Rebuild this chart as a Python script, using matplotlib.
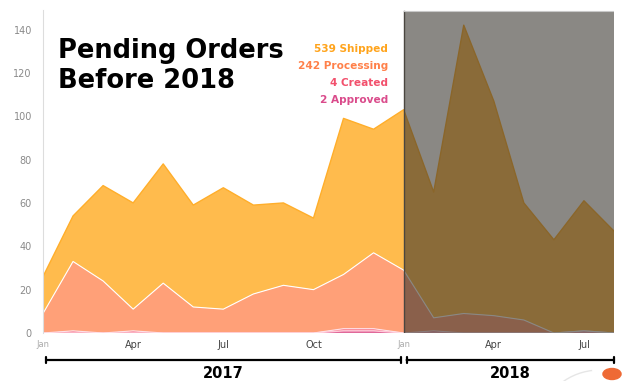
import matplotlib
matplotlib.use("Agg")
import matplotlib.pyplot as plt
from matplotlib.patches import Rectangle, Arc
import matplotlib.transforms as mtransforms
import numpy as np

months = ["Jan", "Feb", "Mar", "Apr", "May", "Jun", "Jul", "Aug", "Sep", "Oct", "Nov", "Dec",
          "Jan", "Feb", "Mar", "Apr", "May", "Jun", "Jul", "Aug"]
approved = [0, 0, 0, 0, 0, 0, 0, 0, 0, 0, 1, 1, 0, 0, 0, 0, 0, 0, 0, 0]
created = [0, 1, 0, 1, 0, 0, 0, 0, 0, 0, 1, 1, 0, 1, 0, 0, 0, 0, 1, 0]
processing = [9, 32, 24, 10, 23, 12, 11, 18, 22, 20, 25, 35, 29, 6, 9, 8, 6, 0, 0, 0]
shipped = [17, 21, 44, 49, 55, 47, 56, 41, 38, 33, 72, 57, 74, 58, 133, 99, 54, 43, 60, 47]

legend_labels = ["539 Shipped", "242 Processing", "4 Created", "2 Approved"]
legend_colors = ["#ffa41c", "#ff8049", "#f2506c", "#da4b8b"]
tick_pos = [0, 3, 6, 9, 12, 15, 18]
tick_labels = ["Jan", "Apr", "Jul", "Oct", "Jan", "Apr", "Jul"]
years = ["2017", "2018"]

fig = plt.figure(figsize=(6.27, 3.81), dpi=100)
ax = fig.add_axes([43 / 627, 1 - 333 / 381, (614 - 43) / 627, (333 - 10) / 381])

x = np.arange(len(months))
ax.stackplot(x, approved, created, processing, shipped,
             colors=["#e0689a", "#f47c8e", "#ffa078", "#ffbb4d"],
             edgecolor="none", zorder=1)
cum = np.cumsum([approved, created, processing, shipped], axis=0)
ax.plot(x, cum[0], color="#ffc8d8", lw=1.0, zorder=2)
ax.plot(x, cum[1], color="#ffe0e8", lw=0.8, zorder=2)
ax.plot(x, cum[2], color="white", lw=0.8, zorder=2)
ax.plot(x, cum[3], color="#ffae2a", lw=1.0, zorder=2)

ax.set_xlim(0, 19)
ax.set_ylim(0, 149)

# shaded 2018 region
ax.add_patch(Rectangle((12, 0), 7, 148.6, facecolor="#35322b", alpha=0.58,
                       edgecolor="none", zorder=3))
ax.plot([12, 12], [0, 148.6], color="#4a4640", lw=1.0, zorder=4)
ax.plot([12, 19], [148.6, 148.6], color="#c8c8c8", lw=0.8, zorder=4)

for s in ["top", "right", "bottom"]:
    ax.spines[s].set_visible(False)
ax.spines["left"].set_color("#dddddd")
ax.spines["left"].set_linewidth(0.8)

ax.set_yticks(range(0, 141, 20))
ax.tick_params(axis="y", length=0, pad=8, labelsize=7, labelcolor="#8a8a8a")
ax.set_xticks(tick_pos)
ax.set_xticklabels(tick_labels)
ax.tick_params(axis="x", length=0, pad=5, labelsize=7, labelcolor="#444444")
for lbl, t in zip(ax.get_xticklabels(), tick_labels):
    if t == "Jan":
        lbl.set_color("#aaaaaa")
        lbl.set_fontsize(6)

# title
ax.text(58 / 627, 1 - 58 / 381, "Pending Orders", transform=fig.transFigure,
        fontsize=18.5, fontweight="bold", color="black", ha="left", va="baseline")
ax.text(58 / 627, 1 - 88 / 381, "Before 2018", transform=fig.transFigure,
        fontsize=18.5, fontweight="bold", color="black", ha="left", va="baseline")

# legend text
for i, (lab, col) in enumerate(zip(legend_labels, legend_colors)):
    fig.text(388 / 627, 1 - (52 + 17 * i) / 381, lab, color=col, fontsize=7.6,
             fontweight="bold", ha="right", va="baseline")

# year brackets
trans = mtransforms.blended_transform_factory(ax.transData, fig.transFigure)
by = 1 - 360 / 381
for (x0, x1), yr in zip([(0.1, 11.9), (12.1, 19.0)], years):
    ax.annotate("", xy=(x0, by), xytext=(x1, by), xycoords=trans, textcoords=trans,
                arrowprops=dict(arrowstyle="|-|, widthA=0.25, widthB=0.25",
                                color="black", lw=1.6, shrinkA=0, shrinkB=0),
                annotation_clip=False)
    ax.text((x0 + x1) / 2, 1 - 373 / 381, yr, transform=trans, ha="center",
            va="center", fontsize=10.5, fontweight="bold", color="black")

# decorative arc and dot
fig.patches.append(Arc((600 / 627, 1 - 425 / 381), 120 / 627, 110 / 381,
                       theta1=95, theta2=170, transform=fig.transFigure,
                       color="#e6e6e6", lw=1.0))
fig.patches.append(plt.Circle((612 / 627, 1 - 374 / 381), 5.5 / 381,
                              transform=fig.transFigure, color="#ee6a35"))

fig.savefig("out.png", dpi=100)
